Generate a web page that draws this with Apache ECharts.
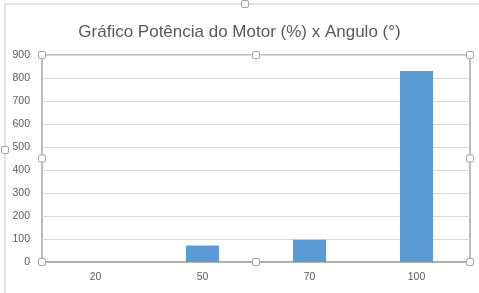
<!DOCTYPE html>
<html><head><meta charset="utf-8">
<script src="https://cdn.jsdelivr.net/npm/echarts@6/dist/echarts.min.js"></script>
<style>html,body{margin:0;padding:0;background:#fff}#c{width:479px;height:293px}</style>
</head><body><div id="c"></div>
<script>
const categories = ['20', '50', '70', '100'];
const values = [0, 72, 97, 830];
const yTicks = [0, 100, 200, 300, 400, 500, 600, 700, 800, 900];
const titleText = 'Gráfico Potência do Motor (%) x Angulo (°)';

const chart = echarts.init(document.getElementById('c'), null, {renderer: 'canvas'});
const L = 42, R = 470, T = 55, B = 262;
function handle(x, y) {
  return {type: 'rect', shape: {x: x - 3.5, y: y - 3.5, width: 7, height: 7, r: 1.5},
    style: {fill: '#fff', stroke: '#a6a6a6', lineWidth: 1}, z: 100};
}
const mx = (L + R) / 2, my = (T + B) / 2;
chart.setOption({
  animation: false,
  backgroundColor: '#fff',
  title: {text: titleText, left: 'center', top: 19,
    textStyle: {fontFamily: 'Liberation Sans', fontSize: 17, fontWeight: 'normal', color: '#595959'}},
  grid: {left: L, right: 479 - R, top: T, bottom: 293 - B, show: true, borderColor: '#a6a6a6', borderWidth: 1.5},
  xAxis: {type: 'category', data: categories,
    axisLine: {show: true, lineStyle: {color: '#a6a6a6', width: 1.5}},
    axisTick: {show: false},
    axisLabel: {color: '#595959', fontFamily: 'Liberation Sans', fontSize: 10.5, margin: 10}},
  yAxis: {type: 'value', min: yTicks[0], max: yTicks[yTicks.length - 1], interval: yTicks[1] - yTicks[0],
    axisLine: {show: false}, axisTick: {show: false},
    splitLine: {lineStyle: {color: '#d9d9d9', width: 1}},
    axisLabel: {color: '#595959', fontFamily: 'Liberation Sans', fontSize: 10.5, margin: 12}},
  series: [{type: 'bar', data: values, barWidth: 33, itemStyle: {color: '#5b9bd5'}}],
  graphic: [
    {type: 'rect', shape: {x: 5, y: 4, width: 490, height: 300}, style: {fill: 'none', stroke: '#c8c8c8', lineWidth: 1}, z: 90},
    handle(L, T), handle(mx, T), handle(R, T),
    handle(L, my), handle(R, my),
    handle(L, B), handle(mx, B), handle(R, B),
    handle(5, 150), handle(245, 4)
  ]
});
</script></body></html>
